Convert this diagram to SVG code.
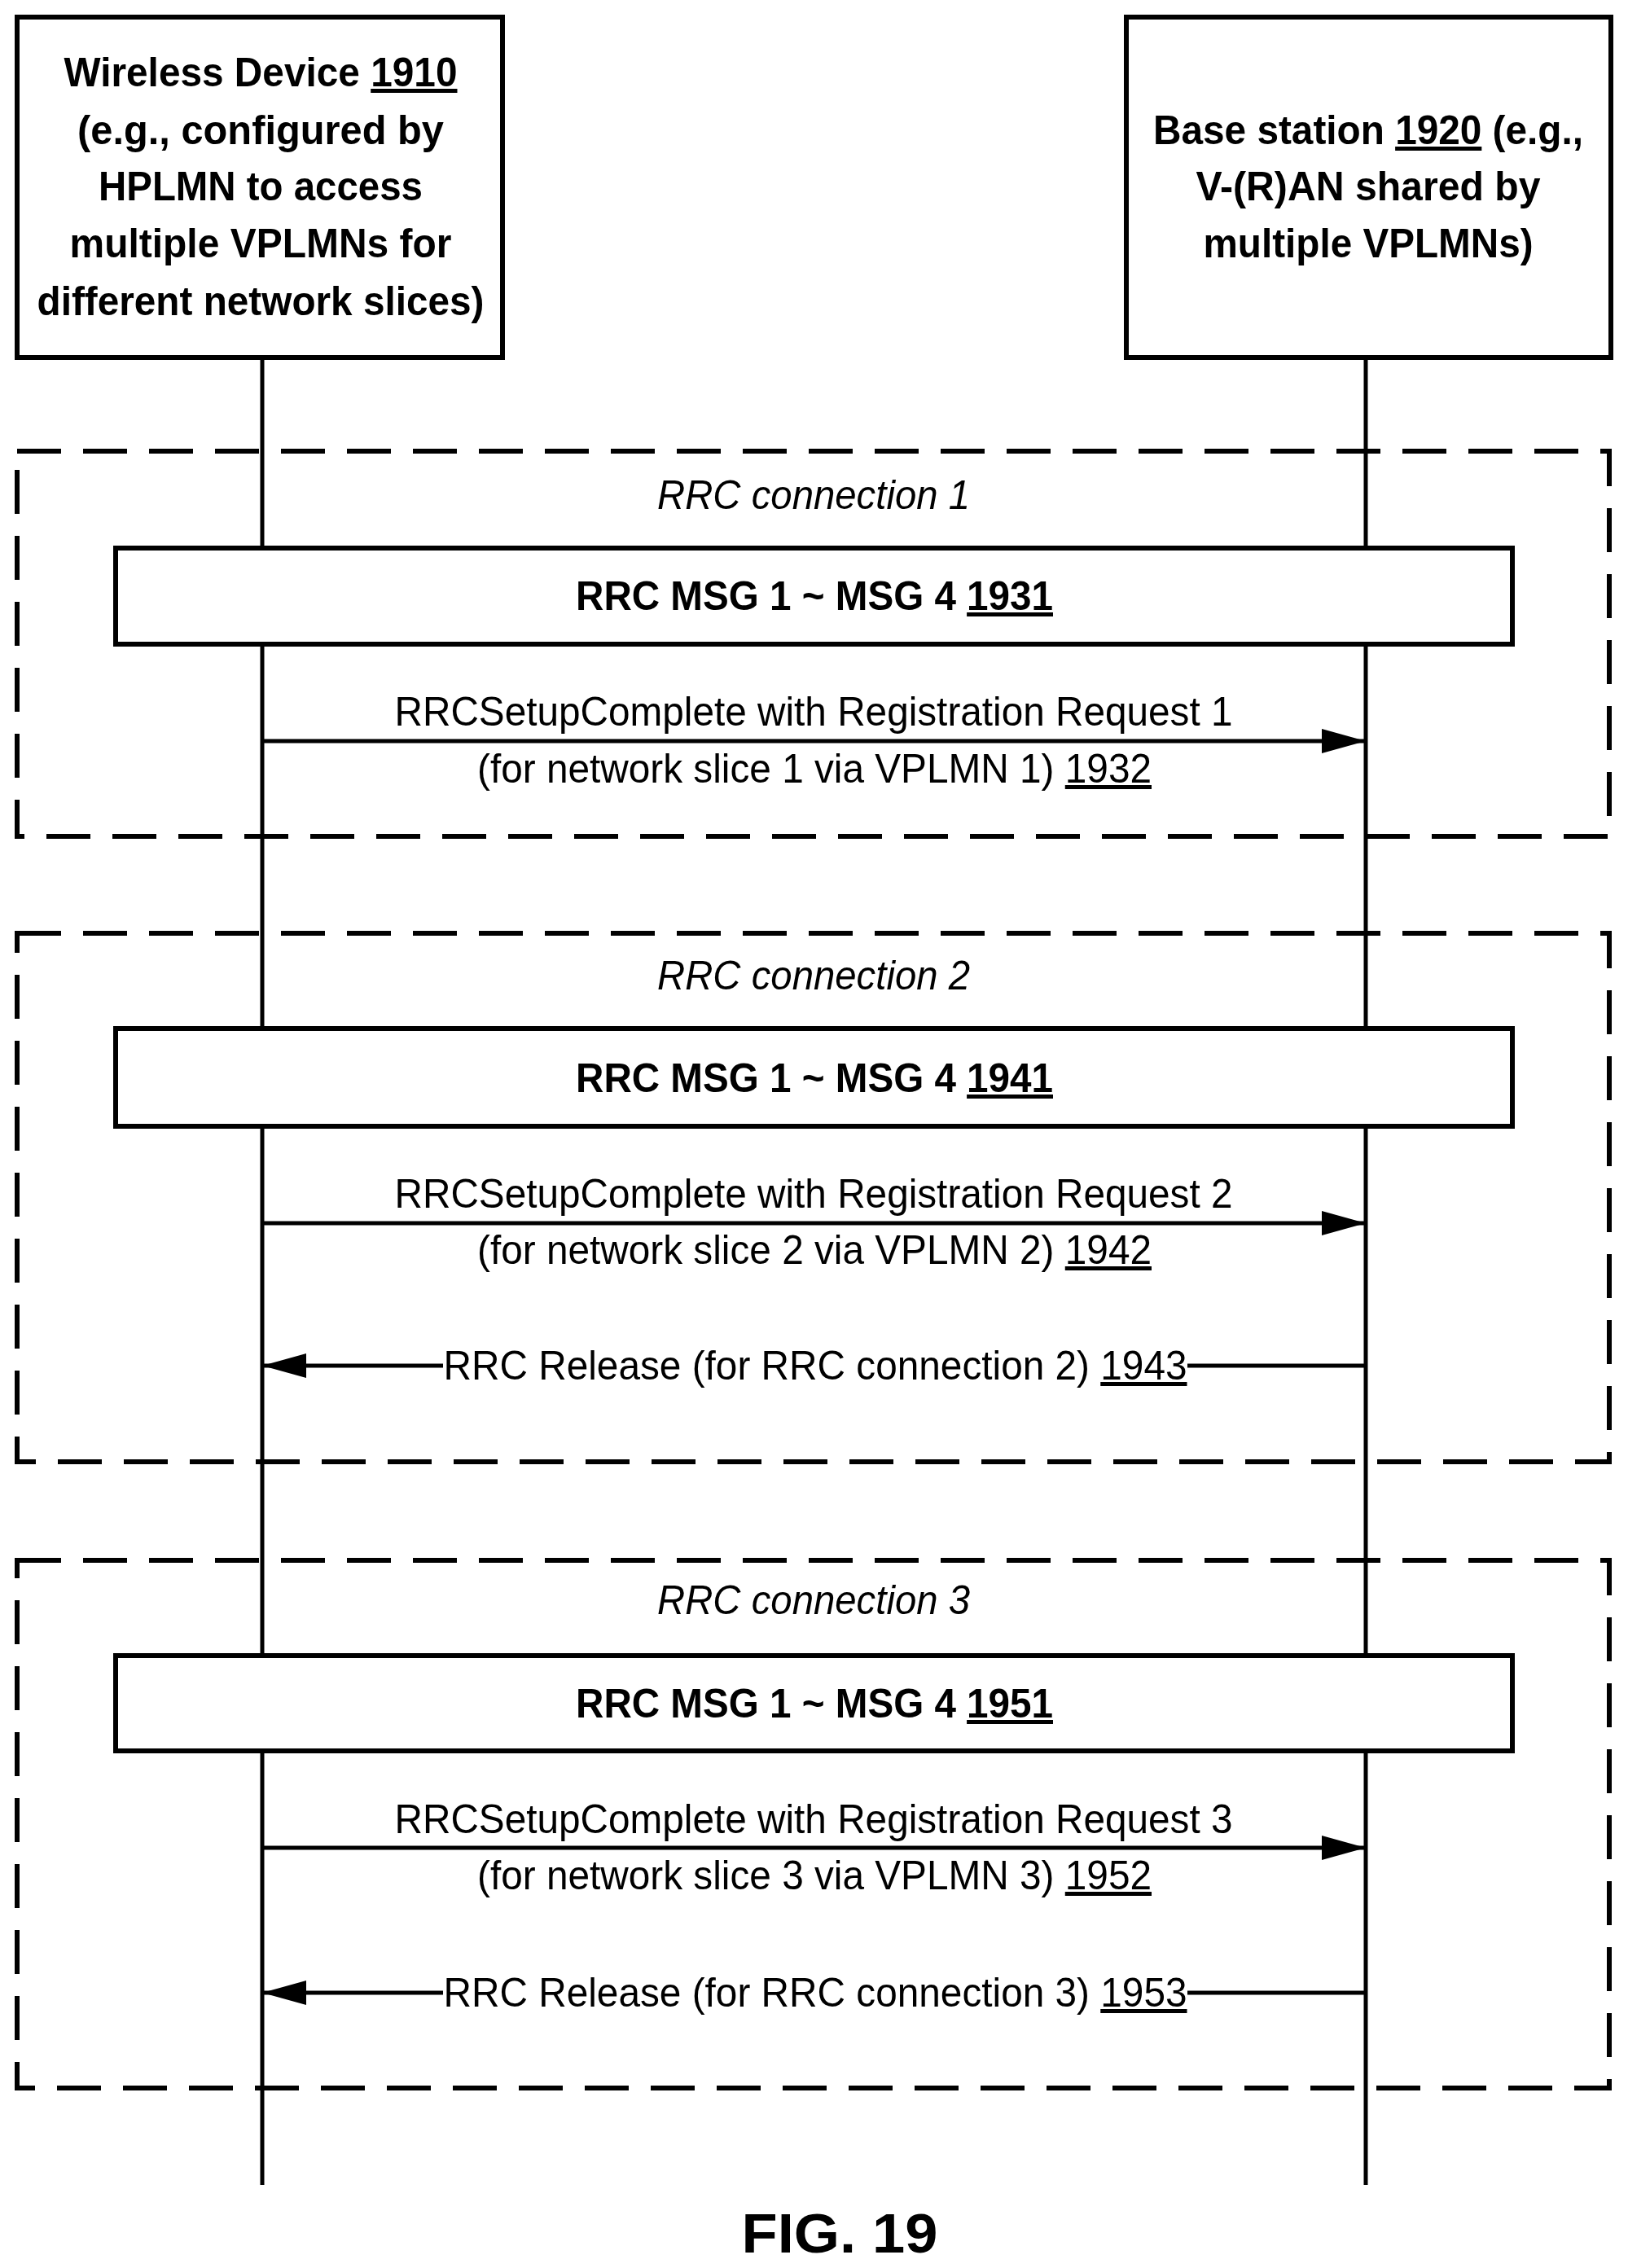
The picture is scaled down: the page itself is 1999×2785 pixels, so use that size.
<svg xmlns="http://www.w3.org/2000/svg" width="1999" height="2785" viewBox="0 0 1999 2785">
<style>
.t{font-family:"Liberation Sans",Arial,sans-serif;font-size:50px;fill:#000;text-anchor:middle}
.b{font-weight:bold}
.i{font-style:italic}
.u{text-decoration:underline}
.box{fill:#fff;stroke:#000;stroke-width:6}
.dash{fill:none;stroke:#000;stroke-width:6;stroke-dasharray:54 27}
.ln{stroke:#000;stroke-width:5;fill:none}
</style>
<defs>
<marker id="ah" markerWidth="54" markerHeight="30" refX="54" refY="15" orient="auto" markerUnits="userSpaceOnUse">
<path d="M0,0 L54,15 L0,30 Z" fill="#000"/>
</marker>
</defs>
<rect width="1999" height="2785" fill="#fff"/>
<g id="lifelines">
<line class="ln" x1="322" y1="439" x2="322" y2="2683"/>
<line class="ln" x1="1677" y1="439" x2="1677" y2="2683"/>
</g>
<g id="frames">
<rect class="dash" x="21" y="554" width="1955" height="473"/>
<text class="t i" x="999" y="625" textLength="384" lengthAdjust="spacingAndGlyphs">RRC connection 1</text>
<rect class="dash" x="21" y="1146" width="1955" height="649"/>
<text class="t i" x="999" y="1215" textLength="384" lengthAdjust="spacingAndGlyphs">RRC connection 2</text>
<rect class="dash" x="21" y="1916" width="1955" height="648"/>
<text class="t i" x="999" y="1982" textLength="384" lengthAdjust="spacingAndGlyphs">RRC connection 3</text>
</g>
<g id="wd">
<rect class="box" x="21" y="21" width="596" height="418"/>
<text class="t b" x="320" y="106" textLength="483" lengthAdjust="spacingAndGlyphs">Wireless Device <tspan class="u">1910</tspan></text>
<text class="t b" x="320" y="177" textLength="450" lengthAdjust="spacingAndGlyphs">(e.g., configured by</text>
<text class="t b" x="320" y="246" textLength="398" lengthAdjust="spacingAndGlyphs">HPLMN to access</text>
<text class="t b" x="320" y="316" textLength="469" lengthAdjust="spacingAndGlyphs">multiple VPLMNs for</text>
<text class="t b" x="320" y="387" textLength="549" lengthAdjust="spacingAndGlyphs">different network slices)</text>
</g>
<g id="bs">
<rect class="box" x="1383" y="21" width="595" height="418"/>
<text class="t b" x="1680" y="177" textLength="528" lengthAdjust="spacingAndGlyphs">Base station <tspan class="u">1920</tspan> (e.g.,</text>
<text class="t b" x="1680" y="246" textLength="423" lengthAdjust="spacingAndGlyphs">V-(R)AN shared by</text>
<text class="t b" x="1680" y="316" textLength="405" lengthAdjust="spacingAndGlyphs">multiple VPLMNs)</text>
</g>
<g id="m1931">
<rect class="box" x="142" y="673" width="1715" height="118"/>
<text class="t b" x="1000" y="749" textLength="586" lengthAdjust="spacingAndGlyphs">RRC MSG 1 ~ MSG 4 <tspan class="u">1931</tspan></text>
</g>
<g id="m1941">
<rect class="box" x="142" y="1263" width="1715" height="120"/>
<text class="t b" x="1000" y="1341" textLength="586" lengthAdjust="spacingAndGlyphs">RRC MSG 1 ~ MSG 4 <tspan class="u">1941</tspan></text>
</g>
<g id="m1951">
<rect class="box" x="142" y="2033" width="1715" height="117"/>
<text class="t b" x="1000" y="2109" textLength="586" lengthAdjust="spacingAndGlyphs">RRC MSG 1 ~ MSG 4 <tspan class="u">1951</tspan></text>
</g>
<g id="connectors">
<line class="ln" x1="322" y1="910" x2="1677" y2="910" marker-end="url(#ah)"/>
<line class="ln" x1="322" y1="1502" x2="1677" y2="1502" marker-end="url(#ah)"/>
<line class="ln" x1="1677" y1="1677" x2="1458" y2="1677"/>
<line class="ln" x1="544" y1="1677" x2="322" y2="1677" marker-end="url(#ah)"/>
<line class="ln" x1="322" y1="2269" x2="1677" y2="2269" marker-end="url(#ah)"/>
<line class="ln" x1="1677" y1="2447" x2="1458" y2="2447"/>
<line class="ln" x1="544" y1="2447" x2="322" y2="2447" marker-end="url(#ah)"/>
</g>
<g id="labels">
<text class="t" x="999" y="891" textLength="1029" lengthAdjust="spacingAndGlyphs">RRCSetupComplete with Registration Request 1</text>
<text class="t" x="1000" y="961" textLength="828" lengthAdjust="spacingAndGlyphs">(for network slice 1 via VPLMN 1) <tspan class="u">1932</tspan></text>
<text class="t" x="999" y="1483" textLength="1029" lengthAdjust="spacingAndGlyphs">RRCSetupComplete with Registration Request 2</text>
<text class="t" x="1000" y="1552" textLength="828" lengthAdjust="spacingAndGlyphs">(for network slice 2 via VPLMN 2) <tspan class="u">1942</tspan></text>
<text class="t" x="1001" y="1694" textLength="913" lengthAdjust="spacingAndGlyphs">RRC Release (for RRC connection 2) <tspan class="u">1943</tspan></text>
<text class="t" x="999" y="2251" textLength="1029" lengthAdjust="spacingAndGlyphs">RRCSetupComplete with Registration Request 3</text>
<text class="t" x="1000" y="2320" textLength="828" lengthAdjust="spacingAndGlyphs">(for network slice 3 via VPLMN 3) <tspan class="u">1952</tspan></text>
<text class="t" x="1001" y="2464" textLength="913" lengthAdjust="spacingAndGlyphs">RRC Release (for RRC connection 3) <tspan class="u">1953</tspan></text>
<text class="t b" x="1031" y="2766" style="font-size:68px" textLength="241" lengthAdjust="spacingAndGlyphs">FIG. 19</text>
</g>
</svg>
